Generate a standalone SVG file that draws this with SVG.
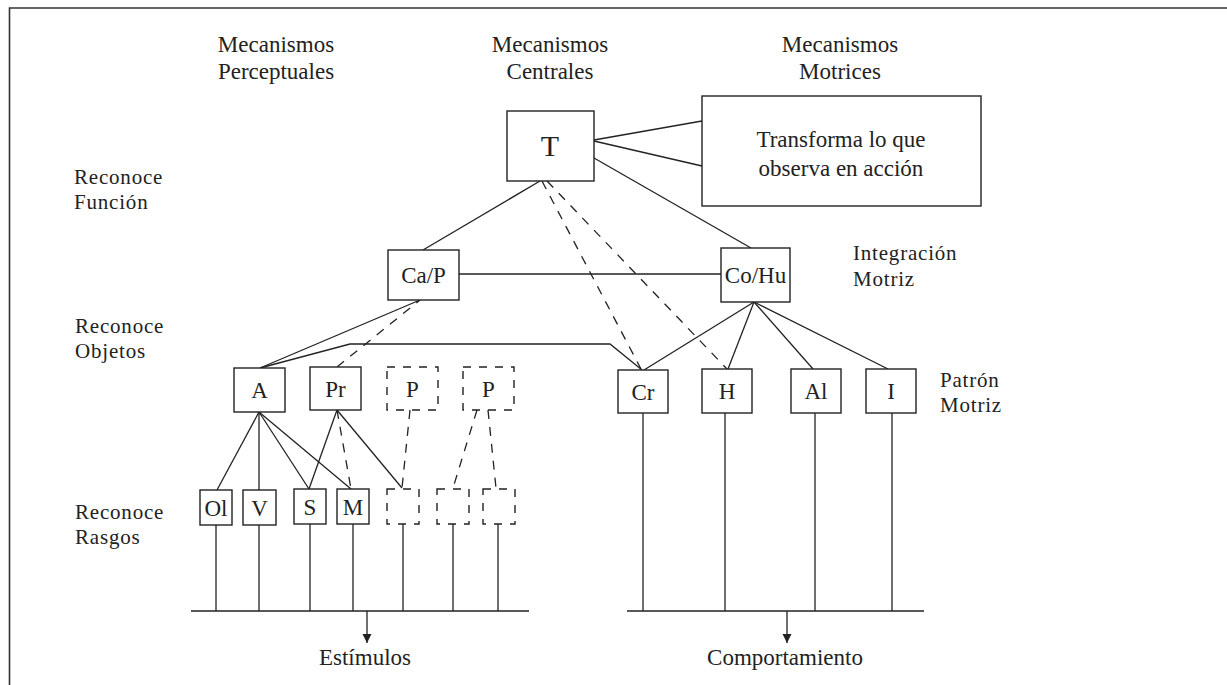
<svg xmlns="http://www.w3.org/2000/svg" width="1227" height="685" viewBox="0 0 1227 685">
<defs>
<style>
text{font-family:"Liberation Serif","Times New Roman",serif;fill:#222;}
.h{font-size:23px;text-anchor:middle;}
.b{font-size:23px;text-anchor:middle;}
.lab{font-size:21px;letter-spacing:0.8px;}
.box{fill:#fff;stroke:#222;stroke-width:1.4;}
.dbox{fill:none;stroke:#222;stroke-width:1.4;stroke-dasharray:8 8;}
.ln{fill:none;stroke:#222;stroke-width:1.3;}
.dl{fill:none;stroke:#222;stroke-width:1.3;stroke-dasharray:9 8;}
</style>
<marker id="arr" viewBox="0 0 10 10" refX="10" refY="5" markerWidth="9" markerHeight="13" markerUnits="userSpaceOnUse" orient="auto">
<path d="M0,0 L10,5 L0,10 Z" fill="#222"/>
</marker>
</defs>
<rect width="1227" height="685" fill="#fff"/>
<path d="M9.5,685 V8 H1227" fill="none" stroke="#333" stroke-width="1.6"/>

<g id="headers">
<text class="h" x="276" y="52">Mecanismos</text>
<text class="h" x="276" y="79">Perceptuales</text>
<text class="h" x="550" y="52">Mecanismos</text>
<text class="h" x="550" y="79">Centrales</text>
<text class="h" x="840" y="52">Mecanismos</text>
<text class="h" x="840" y="79">Motrices</text>
</g>
<g id="labels">
<text class="lab" x="74" y="184">Reconoce</text>
<text class="lab" x="74" y="209">Función</text>
<text class="lab" x="75" y="333">Reconoce</text>
<text class="lab" x="75" y="358">Objetos</text>
<text class="lab" x="75" y="519">Reconoce</text>
<text class="lab" x="75" y="544">Rasgos</text>
<text class="lab" x="853" y="260">Integración</text>
<text class="lab" x="853" y="286">Motriz</text>
<text class="lab" x="940" y="387">Patrón</text>
<text class="lab" x="940" y="412">Motriz</text>
</g>

<g id="connectors">
<line class="ln" x1="594" y1="140" x2="702" y2="121"/>
<line class="ln" x1="594" y1="141" x2="702" y2="166"/>
<line class="ln" x1="594" y1="158" x2="751" y2="248"/>
<line class="ln" x1="540" y1="181" x2="423" y2="250"/>
<line class="ln" x1="459" y1="274" x2="721" y2="274"/>
<line class="dl" x1="542" y1="181" x2="641" y2="369"/>
<line class="dl" x1="547" y1="181" x2="727" y2="369"/>
<line class="ln" x1="754" y1="302" x2="644" y2="370"/>
<line class="ln" x1="754" y1="302" x2="728" y2="369"/>
<line class="ln" x1="754" y1="302" x2="813" y2="369"/>
<line class="ln" x1="754" y1="302" x2="888" y2="369"/>
<line class="ln" x1="260" y1="368" x2="420" y2="300"/>
<polyline class="ln" points="260,368 350,344 610,344 642,370"/>
<line class="dl" x1="337" y1="367" x2="420" y2="300"/>
<line class="ln" x1="259" y1="412" x2="217" y2="490"/>
<line class="ln" x1="259" y1="412" x2="259" y2="490"/>
<line class="ln" x1="259" y1="412" x2="309" y2="489"/>
<line class="ln" x1="259" y1="412" x2="351" y2="489"/>
<line class="ln" x1="337" y1="410" x2="309" y2="489"/>
<line class="dl" x1="337" y1="410" x2="351" y2="489"/>
<line class="ln" x1="337" y1="410" x2="402" y2="488"/>
<line class="dl" x1="410" y1="410" x2="402" y2="488"/>
<line class="dl" x1="477" y1="410" x2="453" y2="488"/>
<line class="dl" x1="488" y1="410" x2="496" y2="488"/>
<path class="ln" d="M216,525 V611 M259,525 V611 M310,524 V611 M353,524 V611 M403,524 V611 M453,524 V611 M498,524 V611"/>
<line class="ln" x1="191" y1="611" x2="529" y2="611"/>
<line class="ln" x1="367" y1="611" x2="367" y2="643" marker-end="url(#arr)"/>
<path class="ln" d="M643,413 V611 M725,413 V611 M815,413 V611 M892,413 V611"/>
<line class="ln" x1="627" y1="611" x2="924" y2="611"/>
<line class="ln" x1="787" y1="611" x2="787" y2="643" marker-end="url(#arr)"/>
</g>

<g id="node-T"><rect class="box" x="507" y="111" width="87" height="70"/><text x="550" y="156" style="font-size:30px;text-anchor:middle">T</text></g>
<g id="node-transforma"><rect class="box" x="702" y="96" width="279" height="110"/>
<text class="b" x="841" y="147">Transforma lo que</text><text class="b" x="841" y="176">observa en acción</text></g>
<g id="node-CaP"><rect class="box" x="388" y="250" width="71" height="50"/><text class="b" x="423.5" y="283">Ca/P</text></g>
<g id="node-CoHu"><rect class="box" x="721" y="248" width="69" height="54"/><text class="b" x="755.5" y="283">Co/Hu</text></g>
<g id="node-A"><rect class="box" x="234" y="368" width="51" height="44"/><text class="b" x="259.5" y="398">A</text></g>
<g id="node-Pr"><rect class="box" x="310" y="367" width="51" height="43"/><text class="b" x="335.5" y="397">Pr</text></g>
<g id="node-P1"><rect class="dbox" x="387" y="367" width="51" height="43"/><text class="b" x="412.5" y="397">P</text></g>
<g id="node-P2"><rect class="dbox" x="463" y="367" width="51" height="43"/><text class="b" x="488.5" y="397">P</text></g>
<g id="node-Cr"><rect class="box" x="618" y="370" width="50" height="43"/><text class="b" x="643" y="400">Cr</text></g>
<g id="node-H"><rect class="box" x="702" y="369" width="50" height="44"/><text class="b" x="727" y="399">H</text></g>
<g id="node-Al"><rect class="box" x="791" y="369" width="50" height="44"/><text class="b" x="816" y="399">Al</text></g>
<g id="node-I"><rect class="box" x="866" y="369" width="50" height="44"/><text class="b" x="891" y="399">I</text></g>
<g id="node-Ol"><rect class="box" x="200" y="490" width="32" height="35"/><text class="b" x="216" y="516">Ol</text></g>
<g id="node-V"><rect class="box" x="243" y="490" width="33" height="35"/><text class="b" x="259.5" y="516">V</text></g>
<g id="node-S"><rect class="box" x="294" y="489" width="32" height="35"/><text class="b" x="310" y="515">S</text></g>
<g id="node-M"><rect class="box" x="337" y="489" width="32" height="35"/><text class="b" x="353" y="515">M</text></g>
<g id="node-d1"><rect class="dbox" x="387" y="489" width="32" height="35"/></g>
<g id="node-d2"><rect class="dbox" x="437" y="489" width="32" height="35"/></g>
<g id="node-d3"><rect class="dbox" x="483" y="489" width="32" height="35"/></g>
<g id="outputs">
<text class="b" x="365" y="665">Estímulos</text>
<text class="b" x="785" y="665">Comportamiento</text>
</g>
</svg>
